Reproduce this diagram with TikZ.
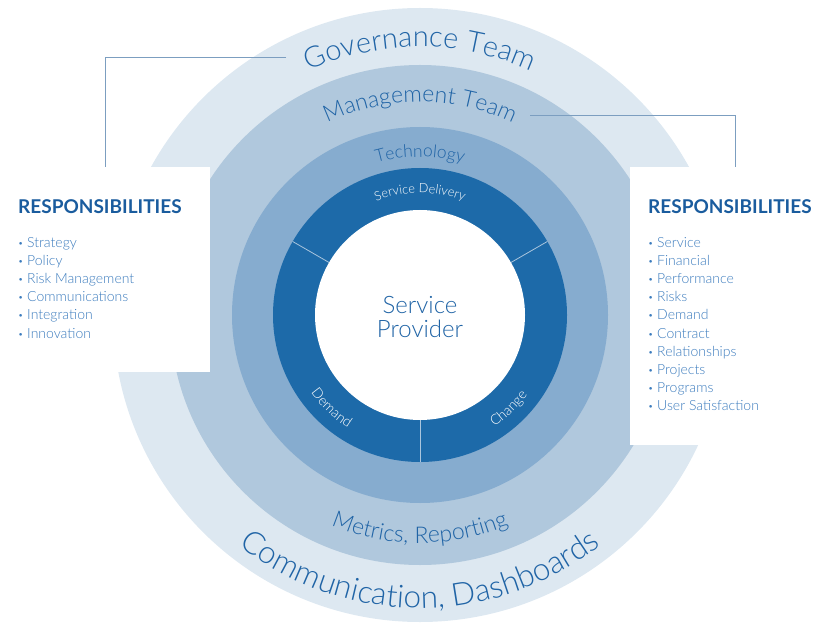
\documentclass[tikz,border=0pt]{standalone}
\usepackage{fontspec}
\setmainfont{Lato}[UprightFont=* Light, BoldFont=* Bold]
\usetikzlibrary{decorations.text}
\definecolor{ringone}{HTML}{DDE8F1}
\definecolor{ringtwo}{HTML}{B0C8DD}
\definecolor{ringthree}{HTML}{86ACCF}
\definecolor{ringfour}{HTML}{1D6AA9}
\definecolor{textblue}{HTML}{2064A6}
\definecolor{headblue}{HTML}{1A5C9E}
\definecolor{itemblue}{HTML}{3C7CBE}
\definecolor{linkgray}{HTML}{7C9EC0}
\begin{document}
\begin{tikzpicture}[x=1pt, y=1pt,
  arctext/.style={decorate, decoration={text along path, text align=center, text color=textblue}},
  divider/.style={draw=ringthree!70!white, line width=0.8pt},
  link/.style={draw=linkgray, line width=0.8pt},
  respbox/.style={fill=white, draw=none, inner sep=0pt, minimum width=210pt},
  resp/.style={anchor=base west, inner sep=0pt, text=headblue, font=\bfseries\fontsize{19}{19}\selectfont},
  item/.style={anchor=base west, inner sep=0pt, text=itemblue, font=\fontsize{14}{14}\selectfont}]
\useasboundingbox (0, 0) rectangle (840, 630);
\coordinate (c) at (420, 315);

% rings
\fill [ringone] (c) circle [radius=307];
\fill [ringtwo] (c) circle [radius=250];
\fill [ringthree] (c) circle [radius=188];
\fill [ringfour] (c) circle [radius=147];
\fill [white] (c) circle [radius=105];
\draw [divider] (c) ++(30:105) -- ++(30:42);
\draw [divider] (c) ++(150:105) -- ++(150:42);
\draw [divider] (c) ++(270:105) -- ++(270:42);

\node [align=center, text=textblue, font=\fontsize{24}{24}\selectfont] (provider) at (420, 313) {Service\\Provider};

% curved labels, top
\path [arctext, decoration={text={|\fontsize{29}{32}\selectfont|Governance Team}}] (c) ++(160:268) arc [start angle=160, end angle=20, radius=268];
\path [arctext, decoration={text={|\fontsize{23}{26}\selectfont|Management Team}}] (c) ++(150:213) arc [start angle=150, end angle=30, radius=213];
\path [arctext, decoration={text={|\fontsize{17.5}{20}\selectfont|Technology}}] (c) ++(140:158) arc [start angle=140, end angle=40, radius=158];
\path [arctext, decoration={text color=white, text={|\fontsize{12.8}{14}\selectfont|Service Delivery}}] (c) ++(130:122) arc [start angle=130, end angle=50, radius=122];

% curved labels, bottom
\path [arctext, decoration={text color=white, text={|\fontsize{14}{16}\selectfont|Demand}}] (c) ++(200:134) arc [start angle=200, end angle=253, radius=134];
\path [arctext, decoration={text color=white, text={|\fontsize{14}{16}\selectfont|Change}}] (c) ++(287:134) arc [start angle=287, end angle=340, radius=134];
\path [arctext, decoration={text={|\fontsize{23}{26}\selectfont|Metrics, Reporting}}] (c) ++(220:228) arc [start angle=220, end angle=320, radius=228];
\path [arctext, decoration={text={|\fontsize{31.5}{34}\selectfont|Communication, Dashboards}}] (c) ++(200:293) arc [start angle=200, end angle=340, radius=293];

% boxes and links
\coordinate (govend) at (286, 573);
\coordinate (mgmtend) at (530, 515);
\node [respbox, minimum height=205pt] (leftbox) at (105, 360.5) {};
\node [respbox, minimum height=278pt] (rightbox) at (735, 324) {};
\draw [link] (govend) -| (leftbox.north);
\draw [link] (mgmtend) -| (rightbox.north);

\node [resp] (lhead) at (18, 416) {RESPONSIBILITIES};
\node [item] (l1) at (18, 382.5) {\makebox[9pt][l]{\raisebox{1pt}{\fontsize{9}{9}\selectfont•}}Strategy};
\node [item] (l2) at (18, 364.4) {\makebox[9pt][l]{\raisebox{1pt}{\fontsize{9}{9}\selectfont•}}Policy};
\node [item] (l3) at (18, 346.3) {\makebox[9pt][l]{\raisebox{1pt}{\fontsize{9}{9}\selectfont•}}Risk Management};
\node [item] (l4) at (18, 328.2) {\makebox[9pt][l]{\raisebox{1pt}{\fontsize{9}{9}\selectfont•}}Communications};
\node [item] (l5) at (18, 310.1) {\makebox[9pt][l]{\raisebox{1pt}{\fontsize{9}{9}\selectfont•}}Integration};
\node [item] (l6) at (18, 292.0) {\makebox[9pt][l]{\raisebox{1pt}{\fontsize{9}{9}\selectfont•}}Innovation};

\node [resp] (rhead) at (648, 416) {RESPONSIBILITIES};
\node [item] (r1) at (648, 382.7) {\makebox[9pt][l]{\raisebox{1pt}{\fontsize{9}{9}\selectfont•}}Service};
\node [item] (r2) at (648, 364.5) {\makebox[9pt][l]{\raisebox{1pt}{\fontsize{9}{9}\selectfont•}}Financial};
\node [item] (r3) at (648, 346.4) {\makebox[9pt][l]{\raisebox{1pt}{\fontsize{9}{9}\selectfont•}}Performance};
\node [item] (r4) at (648, 328.2) {\makebox[9pt][l]{\raisebox{1pt}{\fontsize{9}{9}\selectfont•}}Risks};
\node [item] (r5) at (648, 310.1) {\makebox[9pt][l]{\raisebox{1pt}{\fontsize{9}{9}\selectfont•}}Demand};
\node [item] (r6) at (648, 291.9) {\makebox[9pt][l]{\raisebox{1pt}{\fontsize{9}{9}\selectfont•}}Contract};
\node [item] (r7) at (648, 273.8) {\makebox[9pt][l]{\raisebox{1pt}{\fontsize{9}{9}\selectfont•}}Relationships};
\node [item] (r8) at (648, 255.6) {\makebox[9pt][l]{\raisebox{1pt}{\fontsize{9}{9}\selectfont•}}Projects};
\node [item] (r9) at (648, 237.5) {\makebox[9pt][l]{\raisebox{1pt}{\fontsize{9}{9}\selectfont•}}Programs};
\node [item] (r10) at (648, 219.3) {\makebox[9pt][l]{\raisebox{1pt}{\fontsize{9}{9}\selectfont•}}User Satisfaction};
\end{tikzpicture}
\end{document}
